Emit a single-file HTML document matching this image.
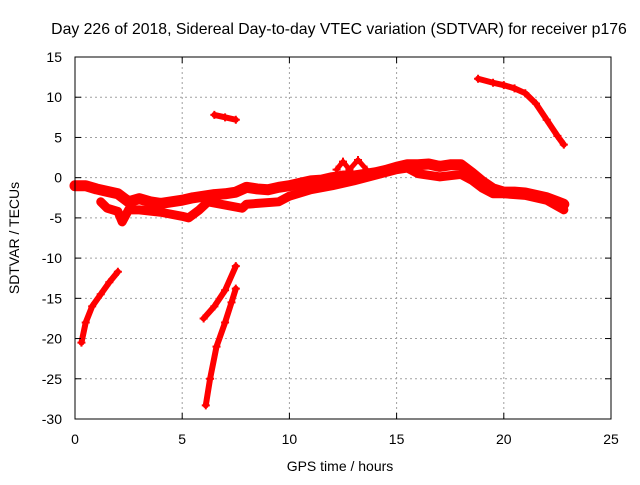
<!DOCTYPE html>
<html><head><meta charset="utf-8"><style>
body{margin:0;background:#fff}
svg text{font-family:"Liberation Sans",sans-serif;font-size:14px;fill:#000}
</style></head><body>
<svg id="chart" width="640" height="480" xmlns="http://www.w3.org/2000/svg">
<rect width="640" height="480" fill="#fff"/>
<g id="grid"></g>
<g id="marks"></g>
<g id="axes"></g>
<text x="339" y="34" text-anchor="middle" style="font-size:15.8px">Day 226 of 2018, Sidereal Day-to-day VTEC variation (SDTVAR) for receiver p176</text>
<text x="340" y="471" text-anchor="middle">GPS time / hours</text>
<text transform="translate(19,238) rotate(-90)" text-anchor="middle">SDTVAR / TECUs</text>
</svg>
<script>
const xTicks=[0,5,10,15,20,25];
const yTicks=[15,10,5,0,-5,-10,-15,-20,-25,-30];
const trackUpper=[[0,-1],[0.5,-1],[1,-1.4],[1.5,-1.7],[2,-2],[2.5,-3],[3,-2.6],[3.5,-3],[4,-3.2],[4.5,-3],[5,-2.8],[5.5,-2.5],[6,-2.3],[6.5,-2.1],[7,-2],[7.5,-1.8],[8,-1.2],[8.5,-1.4],[9,-1.5],[9.5,-1.2],[10,-1],[10.5,-0.7],[11,-0.4],[11.5,-0.3],[12,0],[12.5,0.2],[13,0.2],[13.5,0.4],[14,0.6],[14.5,0.9],[15,1.3],[15.5,1.6],[16,1.6],[16.5,1.7],[17,1.4],[17.5,1.6],[18,1.6],[18.5,0.6],[19,-0.5],[19.5,-1.4],[20,-1.8],[20.5,-1.8],[21,-1.9],[21.5,-2.2],[22,-2.5],[22.5,-3],[22.8,-3.3]];
const trackLower=[[1.2,-3],[1.5,-3.8],[2,-4.2],[2.2,-5.5],[2.5,-4],[3,-4],[4,-4.3],[5,-4.8],[5.3,-5],[5.8,-4],[6.2,-3],[7.8,-3.8],[8,-3.3],[8.5,-3.2],[9.5,-3],[10,-2.3],[11,-1.5],[12,-1],[13,-0.4],[14,0.3],[15,1],[15.5,1.2],[16,0.5],[17,0.1],[18,0.4],[18.5,-0.3],[19,-1.3],[19.5,-2],[20,-2],[21,-2.2],[22,-2.8],[22.8,-4]];
const trackBumps=[[12.2,1],[12.5,2],[12.8,1],[13.2,2.2],[13.6,1]];
const trackB=[[18.8,12.3],[19.5,11.8],[20,11.5],[20.5,11.1],[21,10.5],[21.5,9.2],[22,7.2],[22.5,5.2],[22.8,4.1]];
const trackC=[[6.5,7.8],[7,7.5],[7.5,7.2]];
const trackD=[[0.3,-20.5],[0.5,-18],[0.8,-16],[1.2,-14.5],[1.6,-13],[2,-11.7]];
const trackE=[[6,-17.5],[6.5,-16],[7,-14],[7.5,-11]];
const trackF=[[6.1,-28.3],[6.3,-25],[6.6,-21],[7,-18],[7.3,-15.5],[7.5,-13.8]];
const tracks=[trackUpper,trackLower,trackBumps,trackB,trackC,trackD,trackE,trackF];
const widths=[11,9,5,6,6,6,6,6];
const X0=75,X1=611,Y0=419,Y1=57;
const sx=v=>X0+(v-0)/(25-0)*(X1-X0);
const sy=v=>Y0-(v+30)/(45)*(Y0-Y1);
const NS="http://www.w3.org/2000/svg";
function mk(t,a,p){const e=document.createElementNS(NS,t);for(const k in a)e.setAttribute(k,a[k]);p.appendChild(e);return e;}
const grid=document.getElementById('grid'),axes=document.getElementById('axes'),marks=document.getElementById('marks');
xTicks.forEach(t=>{const x=sx(t);
 if(t>0&&t<25){const l=mk('line',{x1:x,x2:x,y1:Y1,y2:Y0,stroke:'#a0a0a0','stroke-dasharray':'2,3'},grid);}
 mk('line',{x1:x,x2:x,y1:Y0,y2:Y0-6,stroke:'#000'},axes);mk('line',{x1:x,x2:x,y1:Y1,y2:Y1+6,stroke:'#000'},axes);
 const tx=mk('text',{x:x,y:Y0+25,'text-anchor':'middle'},axes);tx.textContent=t;
 });
yTicks.forEach(t=>{const y=sy(t);
 if(t<15&&t>-30){const l=mk('line',{x1:X0,x2:X1,y1:y,y2:y,stroke:'#a0a0a0','stroke-dasharray':'2,3'},grid);}
 mk('line',{x1:X0,x2:X0+6,y1:y,y2:y,stroke:'#000'},axes);mk('line',{x1:X1,x2:X1-6,y1:y,y2:y,stroke:'#000'},axes);
 const tx=mk('text',{x:X0-13,y:y+5,'text-anchor':'end'},axes);tx.textContent=t;
 });
const fr=mk('rect',{x:X0,y:Y1,width:X1-X0,height:Y0-Y1,fill:'none',stroke:'#000'},axes);

tracks.forEach((tr,i)=>{
 const pl=mk('polyline',{points:tr.map(p=>sx(p[0])+','+sy(p[1])).join(' '),fill:'none',stroke:'#f00','stroke-width':widths[i],'stroke-linejoin':'round','stroke-linecap':'round'},marks);
 
 tr.forEach(p=>{const x=sx(p[0]),y=sy(p[1]);
  const m=mk('path',{d:`M${x-4},${y}h8M${x},${y-4}v8`,stroke:'#f00','stroke-width':2},marks);
  });
});
</script>
</body></html>
